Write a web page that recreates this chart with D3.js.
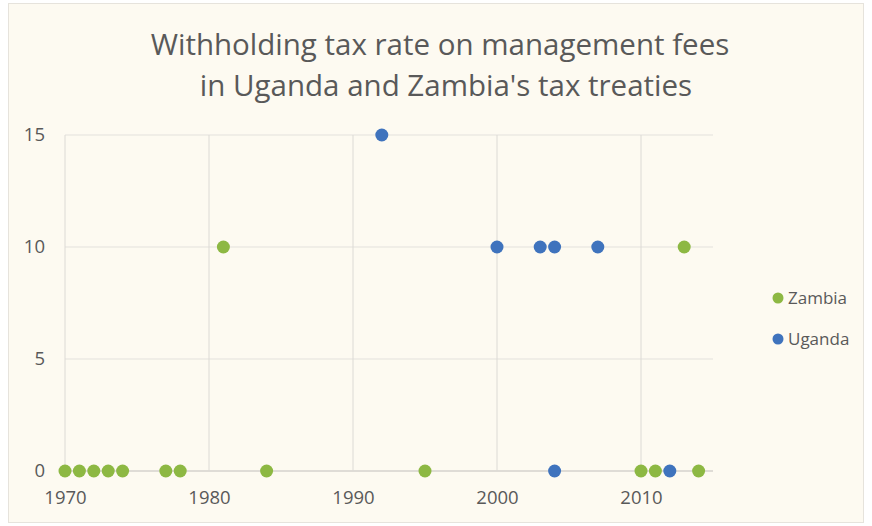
<!DOCTYPE html>
<html>
<head>
<meta charset="utf-8">
<script src="https://cdn.jsdelivr.net/npm/d3@7"></script>
<style>
  body { margin: 0; background: #fff; }
  svg { display: block; font-family: "Open Sans", sans-serif; }
  .axis text { font-size: 18.5px; fill: #595959; font-family: "Open Sans", sans-serif; }
</style>
</head>
<body>
<script>
// data
let zambiaYears = [1970, 1971, 1972, 1973, 1974, 1977, 1978, 1981, 1984, 1995, 2010, 2011, 2013, 2014];
let zambiaRates = [0, 0, 0, 0, 0, 0, 0, 10, 0, 0, 0, 0, 10, 0];
let ugandaYears = [1992, 2000, 2003, 2004, 2007, 2004, 2012];
let ugandaRates = [15, 10, 10, 10, 10, 0, 0];
let xTicks = [1970, 1980, 1990, 2000, 2010];
let yTicks = [0, 5, 10, 15];
let seriesNames = ["Zambia", "Uganda"];
let colors = {Zambia: "#8db843", Uganda: "#3f73bd"};

let size = {width: 872, height: 526};
let margin = {top: 135, right: 159, bottom: 55, left: 65};

let svg = d3.select("body").append("svg")
    .attr("width", size.width)
    .attr("height", size.height);

svg.append("rect")
    .attr("x", 8.5).attr("y", 3.5)
    .attr("width", size.width - 17).attr("height", size.height - 7)
    .attr("fill", "#fdfaf1")
    .attr("stroke", "#e6e3dc");

let x = d3.scaleLinear()
    .domain([1970, 2015])
    .range([margin.left, size.width - margin.right]);

let y = d3.scaleLinear()
    .domain([0, 15])
    .range([size.height - margin.bottom, margin.top]);

// gridlines
svg.append("g")
    .selectAll("line")
    .data(yTicks)
    .join("line")
    .attr("x1", x(1970)).attr("x2", x(2015))
    .attr("y1", d => y(d)).attr("y2", d => y(d))
    .attr("stroke", d => d === 0 ? "#d4d2cd" : "#e3e1dc")
    .attr("stroke-width", d => d === 0 ? 1.5 : 1);

svg.append("g")
    .selectAll("line")
    .data(xTicks)
    .join("line")
    .attr("x1", d => x(d)).attr("x2", d => x(d))
    .attr("y1", y(0)).attr("y2", y(15))
    .attr("stroke", "#dcdad5");

// axis labels
let xAxis = g => g
    .attr("class", "axis")
    .attr("transform", `translate(0,${y(0)})`)
    .call(d3.axisBottom(x).tickValues(xTicks).tickFormat(d3.format("d")).tickSize(0).tickPadding(20))
    .call(g => g.select(".domain").remove());

let yAxis = g => g
    .attr("class", "axis")
    .attr("transform", `translate(${margin.left},0)`)
    .call(d3.axisLeft(y).tickValues(yTicks).tickSize(0).tickPadding(20))
    .call(g => g.select(".domain").remove());

svg.append("g").call(xAxis);
svg.append("g").call(yAxis);

// points
let zambia = zambiaYears.map((d, i) => ({year: d, rate: zambiaRates[i]}));
let uganda = ugandaYears.map((d, i) => ({year: d, rate: ugandaRates[i]}));

svg.append("g")
    .selectAll("circle")
    .data(zambia)
    .join("circle")
    .attr("cx", d => x(d.year))
    .attr("cy", d => y(d.rate))
    .attr("r", 6.5)
    .attr("fill", colors.Zambia);

svg.append("g")
    .selectAll("circle")
    .data(uganda)
    .join("circle")
    .attr("cx", d => x(d.year))
    .attr("cy", d => y(d.rate))
    .attr("r", 6.5)
    .attr("fill", colors.Uganda);

// title
svg.append("text")
    .attr("x", 440).attr("y", 55)
    .attr("text-anchor", "middle")
    .attr("font-size", 29.5)
    .attr("fill", "#595959")
    .text("Withholding tax rate on management fees");

svg.append("text")
    .attr("x", 446).attr("y", 96)
    .attr("text-anchor", "middle")
    .attr("font-size", 29.5)
    .attr("fill", "#595959")
    .text("in Uganda and Zambia's tax treaties");

// legend
let legend = svg.append("g")
    .selectAll("g")
    .data(seriesNames)
    .join("g")
    .attr("transform", (d, i) => `translate(778,${298 + i * 41})`);

legend.append("circle")
    .attr("r", 5.5)
    .attr("fill", d => colors[d]);

legend.append("text")
    .attr("x", 10)
    .attr("dy", "0.35em")
    .attr("font-size", 17)
    .attr("fill", "#595959")
    .text(d => d);
</script>
</body>
</html>
